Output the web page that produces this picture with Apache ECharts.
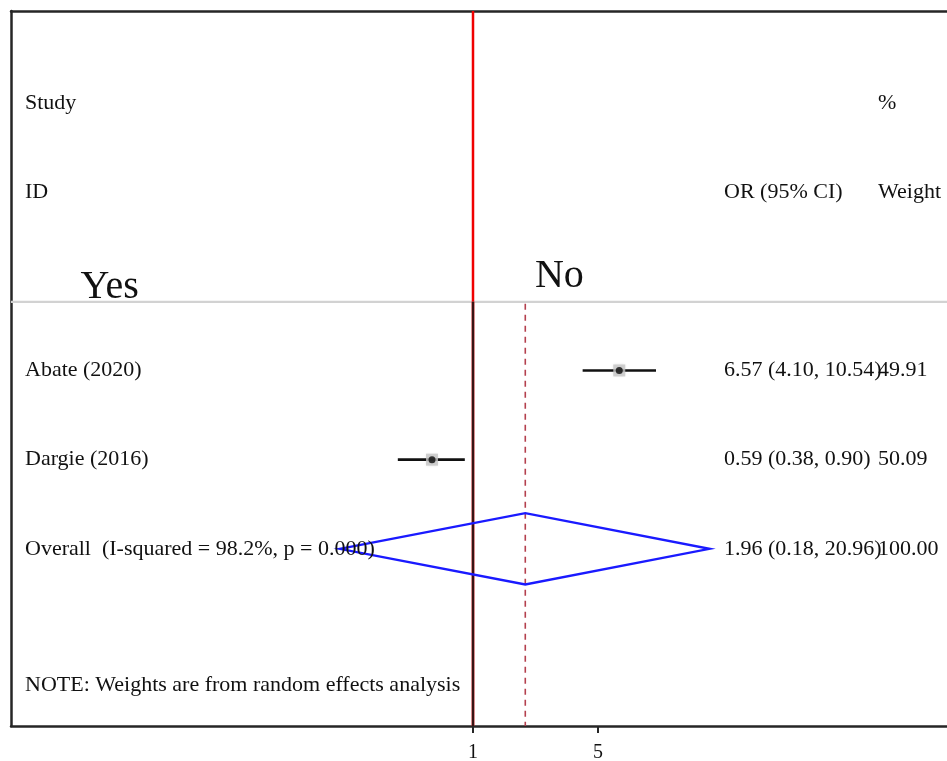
<!DOCTYPE html>
<html>
<head>
<meta charset="utf-8">
<script src="https://cdn.jsdelivr.net/npm/echarts@6/dist/echarts.min.js"></script>
<style>
  html, body { margin: 0; padding: 0; background: #fff; }
  #chart { width: 947px; height: 761px; }
</style>
</head>
<body>
<div id="chart"></div>
<script>
// Individual studies: odds ratio with 95% CI and random-effects weight (%)
const studies   = ['Abate (2020)', 'Dargie (2016)'];
const oddsRatio = [6.57, 0.59];
const ciLower   = [4.10, 0.38];
const ciUpper   = [10.54, 0.90];
const weights   = [49.91, 50.09];

// Pooled random-effects estimate
const overallLabel  = 'Overall  (I-squared = 98.2%, p = 0.000)';
const overallOR     = 1.96;
const overallLower  = 0.18;
const overallUpper  = 20.96;
const overallWeight = 100.00;

// Column headings, side labels, footnote and axis ticks
const headLeft   = ['Study', 'ID'];
const headEffect = ['', 'OR (95% CI)'];
const headWeight = ['%', 'Weight'];
const sideLabels = ['Yes', 'No'];
const noteText   = 'NOTE: Weights are from random effects analysis';
const tickValues = [1, 5];

// Row layout (rows counted from the top of the plot)
const headRows    = [1, 2];
const studyRows   = studies.map((_, i) => 4 + i);
const overallRow  = 6;
const noteRow     = 7.525;
const sepRow      = 3.23;
const sideRows    = [3.07, 2.95];
const sideX       = [0.0064, 2.22];  // OR positions where Yes / No start

const SERIF = "'Liberation Serif', 'Times New Roman', serif";
const fmt2 = v => v.toFixed(2);

// Text cells: [row, column, text]; columns are offsets from the plot's left edge
const COL_LEFT = 14, COL_EFFECT = 713, COL_WEIGHT = 867;
const cells = [];
headRows.forEach((r, i) => {
  cells.push([r, COL_LEFT, headLeft[i]]);
  if (headEffect[i]) cells.push([r, COL_EFFECT, headEffect[i]]);
  cells.push([r, COL_WEIGHT, headWeight[i]]);
});
studies.forEach((s, i) => {
  cells.push([studyRows[i], COL_LEFT, s]);
  cells.push([studyRows[i], COL_EFFECT, fmt2(oddsRatio[i]) + ' (' + fmt2(ciLower[i]) + ', ' + fmt2(ciUpper[i]) + ')']);
  cells.push([studyRows[i], COL_WEIGHT, fmt2(weights[i])]);
});
cells.push([overallRow, COL_LEFT, overallLabel]);
cells.push([overallRow, COL_EFFECT, fmt2(overallOR) + ' (' + fmt2(overallLower) + ', ' + fmt2(overallUpper) + ')']);
cells.push([overallRow, COL_WEIGHT, fmt2(overallWeight)]);
cells.push([noteRow, COL_LEFT, noteText]);

const chart = echarts.init(document.getElementById('chart'), null, { renderer: 'canvas' });

const PX_PER_LN = 77.7;
const xMin = Math.exp(-462 / PX_PER_LN);
const xMax = Math.exp(474 / PX_PER_LN);

const logAxisBase = {
  type: 'log',
  logBase: Math.E,
  min: xMin,
  max: xMax,
  splitLine: { show: false },
  axisLine: { show: true, onZero: false, lineStyle: { color: '#262626', width: 2.5 } }
};

chart.setOption({
  animation: false,
  backgroundColor: '#fff',
  grid: { left: 11, right: 0, top: 11, bottom: 35, containLabel: false, outerBoundsMode: 'none' },
  xAxis: [
    Object.assign({}, logAxisBase, {
      position: 'bottom',
      axisTick: { show: true, customValues: tickValues, length: 7, lineStyle: { color: '#262626', width: 2 } },
      axisLabel: {
        show: true, customValues: tickValues, margin: 17,
        fontFamily: SERIF, fontSize: 20, color: '#111',
        formatter: v => String(+(+v).toPrecision(6))
      }
    }),
    Object.assign({}, logAxisBase, {
      position: 'top',
      axisTick: { show: false },
      axisLabel: { show: false }
    })
  ],
  yAxis: {
    type: 'value',
    inverse: true,
    min: -0.03,
    max: 7.986,
    axisLine: { show: true, onZero: false, lineStyle: { color: '#262626', width: 2.5 } },
    axisTick: { show: false },
    axisLabel: { show: false },
    splitLine: { show: false }
  },
  series: [
    // Separator under the headings plus the reference lines (null effect and pooled estimate)
    {
      type: 'custom',
      silent: true,
      z: 1,
      data: [[overallOR, sepRow]],
      encode: { x: 0, y: 1 },
      renderItem: (params, api) => {
        const cs = params.coordSys;
        const sep = api.coord([1, api.value(1)]);
        const pooled = api.coord([api.value(0), api.value(1)]);
        const bottom = cs.y + cs.height;
        return {
          type: 'group',
          children: [
            { type: 'line', shape: { x1: cs.x, y1: sep[1], x2: cs.x + cs.width, y2: sep[1] },
              style: { stroke: '#d2d2d2', lineWidth: 2.2 } },
            { type: 'line', shape: { x1: sep[0], y1: cs.y, x2: sep[0], y2: sep[1] },
              style: { stroke: '#f00000', lineWidth: 2.5 } },
            { type: 'line', shape: { x1: sep[0], y1: sep[1], x2: sep[0], y2: bottom },
              style: { stroke: '#b02020', lineWidth: 3 } },
            { type: 'line', shape: { x1: sep[0], y1: sep[1], x2: sep[0], y2: bottom },
              style: { stroke: '#111', lineWidth: 1.5 } },
            { type: 'line', shape: { x1: pooled[0], y1: sep[1] + 2, x2: pooled[0], y2: bottom },
              style: { stroke: '#b4404e', lineWidth: 1.6, lineDash: [6, 5] } }
          ]
        };
      }
    },
    // Confidence intervals
    {
      type: 'custom',
      silent: true,
      z: 3,
      data: studies.map((_, i) => [ciLower[i], ciUpper[i], studyRows[i]]),
      encode: { x: [0, 1], y: 2 },
      renderItem: (params, api) => {
        const a = api.coord([api.value(0), api.value(2)]);
        const b = api.coord([api.value(1), api.value(2)]);
        return { type: 'line', shape: { x1: a[0], y1: a[1], x2: b[0], y2: b[1] },
                 style: { stroke: '#111', lineWidth: 2.6 } };
      }
    },
    // Weight boxes
    {
      type: 'scatter',
      silent: true,
      z: 4,
      symbol: 'rect',
      symbolSize: 12,
      itemStyle: { color: '#c6c6c6', shadowBlur: 3, shadowColor: 'rgba(0,0,0,0.15)' },
      data: studies.map((_, i) => [oddsRatio[i], studyRows[i]])
    },
    // Point estimates
    {
      type: 'scatter',
      silent: true,
      z: 5,
      symbol: 'circle',
      symbolSize: 7,
      itemStyle: { color: '#0a0a0a' },
      data: studies.map((_, i) => [oddsRatio[i], studyRows[i]])
    },
    // Pooled estimate diamond
    {
      type: 'custom',
      silent: true,
      z: 6,
      data: [[overallLower, overallOR, overallUpper, overallRow]],
      encode: { x: [0, 1, 2], y: 3 },
      renderItem: (params, api) => {
        const row = api.value(3), h = 0.4;
        const pts = [
          api.coord([api.value(0), row]),
          api.coord([api.value(1), row - h]),
          api.coord([api.value(2), row]),
          api.coord([api.value(1), row + h])
        ];
        return { type: 'polygon', shape: { points: pts },
                 style: { fill: 'none', stroke: '#1a1aff', lineWidth: 2.4 } };
      }
    },
    // Table text
    {
      type: 'custom',
      silent: true,
      z: 7,
      data: cells.map(c => [1, c[0]]),
      encode: { x: 0, y: 1 },
      renderItem: (params, api) => {
        const cs = params.coordSys;
        const c = cells[params.dataIndex];
        const p = api.coord([1, api.value(1)]);
        return { type: 'text', x: cs.x + c[1], y: p[1],
                 style: { text: c[2], font: '22px ' + SERIF, fill: '#111', align: 'left', verticalAlign: 'middle' } };
      }
    },
    // Yes / No side labels
    {
      type: 'custom',
      silent: true,
      z: 7,
      data: sideLabels.map((_, i) => [sideX[i], sideRows[i]]),
      encode: { x: 0, y: 1 },
      renderItem: (params, api) => {
        const p = api.coord([api.value(0), api.value(1)]);
        return { type: 'text', x: p[0], y: p[1],
                 style: { text: sideLabels[params.dataIndex], font: '40px ' + SERIF, fill: '#111', align: 'left', verticalAlign: 'middle' } };
      }
    }
  ]
});
</script>
</body>
</html>
